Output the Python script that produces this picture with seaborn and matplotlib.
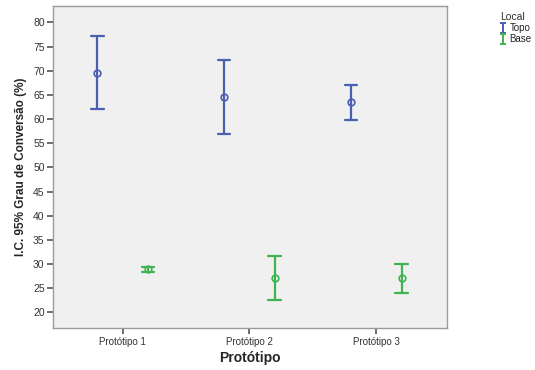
import matplotlib
matplotlib.use("Agg")
import matplotlib.pyplot as plt
from matplotlib.lines import Line2D
from matplotlib.path import Path
import numpy as np
import pandas as pd
import seaborn as sns

# 95% confidence intervals of the degree of conversion, per prototype and location
prototipos = ["Protótipo 1", "Protótipo 2", "Protótipo 3"]
locais = ["Topo", "Base"]
topo_media = [69.5, 64.6, 63.5]
topo_inf = [62.1, 56.9, 59.9]
topo_sup = [77.1, 72.2, 67.0]
base_media = [28.9, 27.1, 27.1]
base_inf = [28.4, 22.6, 24.1]
base_sup = [29.4, 31.6, 30.0]

cores = {"Topo": "#4a5fb0", "Base": "#3fb34f"}

# Long table: each group holds its lower bound, mean and upper bound;
# the median gives the mean and min/max give the interval ends.
linhas = []
for local, inf, med, sup in [("Topo", topo_inf, topo_media, topo_sup),
                             ("Base", base_inf, base_media, base_sup)]:
    for p, a, m, b in zip(prototipos, inf, med, sup):
        for v in (a, m, b):
            linhas.append({"Protótipo": p, "Local": local, "valor": v})
df = pd.DataFrame(linhas)

sns.set_style("white")
plt.rcParams["font.family"] = ["Liberation Sans", "DejaVu Sans"]

fig = plt.figure(figsize=(5.35, 3.70), dpi=100)
ax = fig.add_axes([0.099, 0.114, 0.737, 0.870])
ax.set_facecolor("#f0f0f0")

sns.pointplot(
    data=df, x="Protótipo", y="valor", hue="Local",
    order=prototipos, hue_order=locais,
    estimator="median", errorbar=lambda v: (v.min(), v.max()),
    dodge=0.4, linestyle="none", markers="o", markersize=4.8,
    capsize=0.1, palette=cores, err_kws={"linewidth": 1.6},
    legend=False, ax=ax,
)

for ln in ax.lines:
    if ln.get_marker() == "o":
        ln.set_markerfacecolor("none")
        ln.set_markeredgewidth(1.2)
        ln.set_zorder(4)

ax.set_xlim(-0.55, 2.56)
ax.set_ylim(16.8, 83.4)
ax.set_yticks(np.arange(20, 81, 5))

ax.set_xlabel("Protótipo", fontsize=10, fontweight="bold", labelpad=3)
ax.set_ylabel("I.C. 95% Grau de Conversão (%)", fontsize=8.5, fontweight="bold", labelpad=4)

ax.tick_params(axis="both", which="both", direction="out", length=4.5, width=1.1,
               color="#444444", labelcolor="#333333", bottom=True, left=True)
ax.tick_params(axis="y", labelsize=7.5, pad=1.5)
ax.tick_params(axis="x", labelsize=7, pad=2)

for s in ax.spines.values():
    s.set_color("#9a9a9a")
    s.set_linewidth(1.0)

# I-shaped legend key, like an error bar with caps
barra_i = Path([(-0.6, -1), (0.6, -1), (0, -1), (0, 1), (-0.6, 1), (0.6, 1)],
               [Path.MOVETO, Path.LINETO, Path.MOVETO, Path.LINETO, Path.MOVETO, Path.LINETO])
handles = [Line2D([], [], linestyle="none", marker=barra_i, markersize=7.5,
                  markeredgecolor=cores[l], markerfacecolor="none", markeredgewidth=1.4)
           for l in locais]
leg = fig.legend(handles, locais, title="Local", loc="upper left",
                 bbox_to_anchor=(0.934, 0.968), frameon=False, fontsize=7,
                 title_fontsize=7.5, handlelength=0.6, handletextpad=0.4,
                 labelspacing=0.12, borderaxespad=0, borderpad=0)
leg._legend_box.align = "left"
leg.get_title().set_color("#333333")
for t in leg.get_texts():
    t.set_color("#222222")

fig.savefig("out.png", dpi=100, facecolor="white")
